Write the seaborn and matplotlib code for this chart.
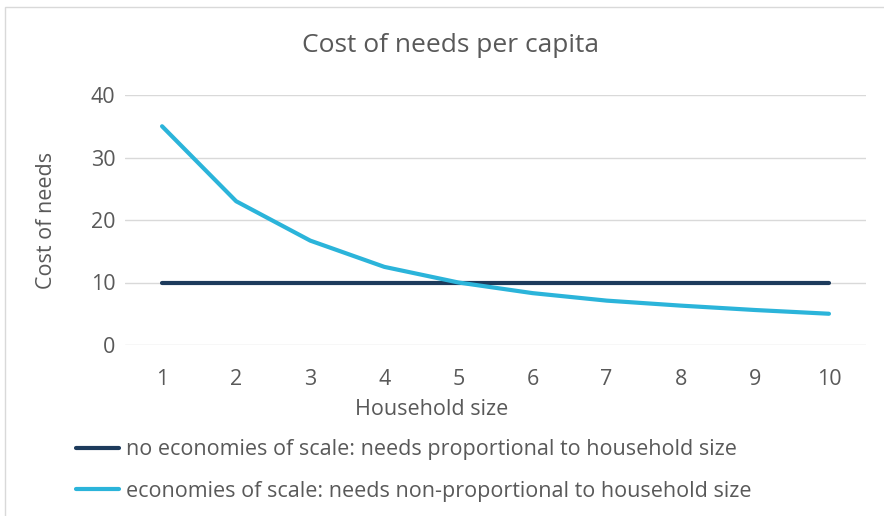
import matplotlib
matplotlib.use("Agg")
import matplotlib.pyplot as plt
import seaborn as sns
import pandas as pd
from matplotlib.patches import Rectangle
from matplotlib.lines import Line2D

household_size = [1, 2, 3, 4, 5, 6, 7, 8, 9, 10]
no_economies = [10, 10, 10, 10, 10, 10, 10, 10, 10, 10]
economies = [35, 23, 16.7, 12.5, 10, 8.3, 7.1, 6.3, 5.6, 5.0]
series_names = [
    "no economies of scale: needs proportional to household size",
    "economies of scale: needs non-proportional to household size",
]
y_ticks = [0, 10, 20, 30, 40]

df = pd.DataFrame({
    "Household size": household_size * 2,
    "Cost of needs": no_economies + economies,
    "series": [series_names[0]] * len(household_size) + [series_names[1]] * len(household_size),
})

sns.set_theme(style="white")
plt.rcParams["font.family"] = ["Open Sans", "DejaVu Sans"]

W, H = 884, 516
fig = plt.figure(figsize=(W / 100, H / 100), dpi=100)
ax = fig.add_axes([125 / W, 1 - 345 / H, (866 - 125) / W, (345 - 95) / H])

colors = ["#1D3B5C", "#2BB4DA"]
sns.lineplot(data=df, x="Household size", y="Cost of needs", hue="series",
             palette=colors, linewidth=3.0, ax=ax, legend=False,
             solid_capstyle="round")

ax.set_xlim(0.5, 10.5)
ax.set_ylim(0, 40)
ax.set_xticks(household_size)
ax.set_yticks(y_ticks)
ax.yaxis.grid(True, color="#D9D9D9", linewidth=1.0)
ax.set_axisbelow(True)
for s in ax.spines.values():
    s.set_visible(False)
ax.tick_params(axis="both", length=0, labelsize=15.5, labelcolor="#595959")
ax.tick_params(axis="x", pad=17)
ax.tick_params(axis="y", pad=7)
ax.set_xlabel("Household size", fontsize=15.5, color="#595959", labelpad=7,
              x=(432 - 125) / (866 - 125))
ax.set_ylabel("Cost of needs", fontsize=15.5, color="#595959", labelpad=24)

fig.text(450 / W, 1 - 45 / H, "Cost of needs per capita", ha="center", va="center",
         fontsize=19, color="#595959")

handles = [Line2D([0], [0], color=c, linewidth=3.0) for c in colors]
fig.legend(handles, series_names, loc="upper left",
           bbox_to_anchor=(61 / W, 1 - 424 / H), frameon=False, fontsize=15.5,
           labelcolor="#595959", handlelength=2.0, handletextpad=0.3,
           labelspacing=0.95, borderpad=0.2)

fig.patches.append(Rectangle((5 / W, -0.1), 1.2, 1 - 7 / H + 0.1,
                             transform=fig.transFigure, fill=False,
                             edgecolor="#D9D9D9", linewidth=1.0))

fig.savefig("out.png", dpi=100, facecolor="white")
